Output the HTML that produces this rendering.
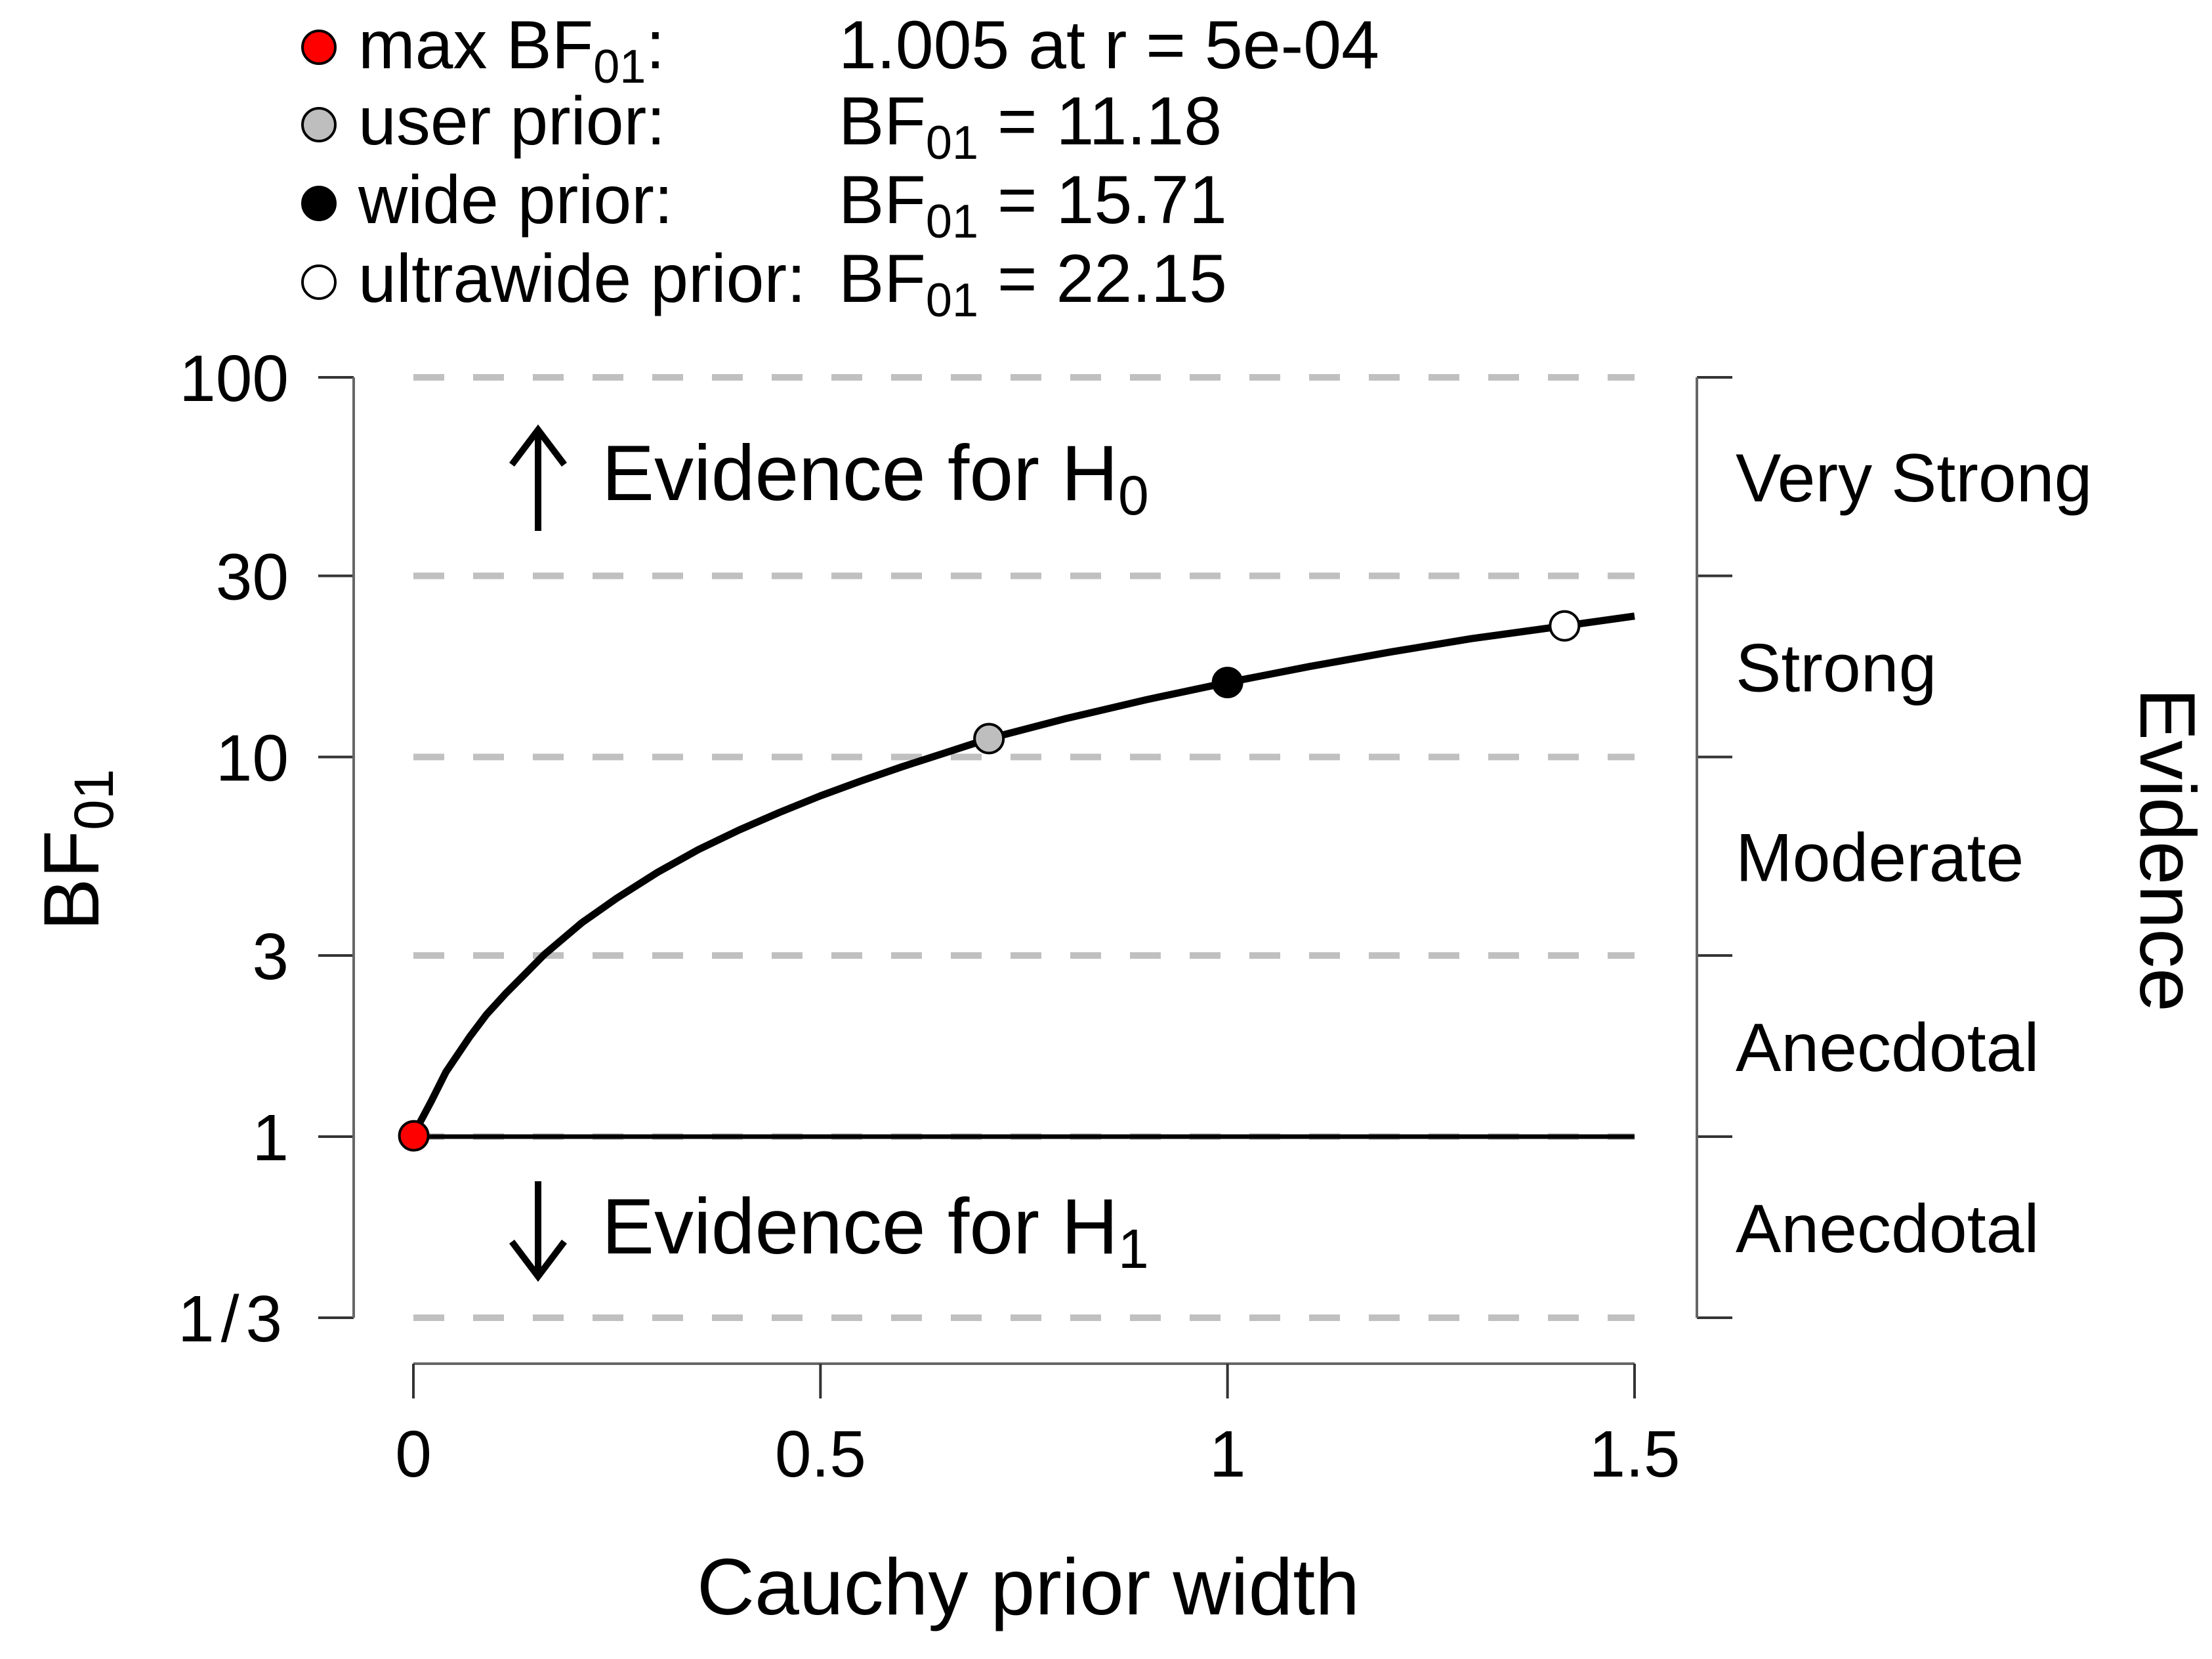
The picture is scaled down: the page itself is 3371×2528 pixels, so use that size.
<!DOCTYPE html>
<html><head><meta charset="utf-8"><style>
html,body{margin:0;padding:0;background:#fff}
svg{display:block;font-family:"Liberation Sans",sans-serif}
</style></head><body>
<svg id="chart" width="3371" height="2528" viewBox="0 0 3371 2528">
<g id="legend" font-size="104" fill="#000">
  <g>
    <circle cx="486" cy="72" r="25" fill="#ff0000" stroke="#000" stroke-width="4"/>
    <text x="546" y="104">max BF<tspan font-size="72" dy="22">01</tspan><tspan dy="-22">:</tspan></text>
    <text x="1278" y="104">1.005 at r = 5e-04</text>
  </g>
  <g>
    <circle cx="486" cy="190" r="25" fill="#bebebe" stroke="#000" stroke-width="4"/>
    <text x="546" y="220">user prior:</text>
    <text x="1278" y="220">BF<tspan font-size="72" dy="22">01</tspan><tspan dy="-22"> = 11.18</tspan></text>
  </g>
  <g>
    <circle cx="486" cy="310" r="25" fill="#000" stroke="#000" stroke-width="4"/>
    <text x="546" y="340">wide prior:</text>
    <text x="1278" y="340">BF<tspan font-size="72" dy="22">01</tspan><tspan dy="-22"> = 15.71</tspan></text>
  </g>
  <g>
    <circle cx="486" cy="430" r="25" fill="#fff" stroke="#000" stroke-width="4"/>
    <text x="546" y="460">ultrawide prior:</text>
    <text x="1278" y="460">BF<tspan font-size="72" dy="22">01</tspan><tspan dy="-22"> = 22.15</tspan></text>
  </g>
</g>
<g id="grid"></g>
<g id="yaxis"></g>
<g id="raxis"></g>
<g id="xaxis"></g>
<g id="marks"></g>
<g font-size="120">
  <g stroke="#000" stroke-width="10" fill="none">
    <line x1="820" y1="809" x2="820" y2="655"/><polyline points="780,708 820,655 860,708"/>
  </g>
  <text x="917" y="762">Evidence for H<tspan font-size="84" dy="22">0</tspan></text>
  <g stroke="#000" stroke-width="10" fill="none">
    <line x1="820" y1="1800" x2="820" y2="1945"/><polyline points="780,1892 820,1945 860,1892"/>
  </g>
  <text x="917" y="1910">Evidence for H<tspan font-size="84" dy="22">1</tspan></text>
</g>
<text transform="translate(150,1295) rotate(-90)" text-anchor="middle" font-size="120">BF<tspan font-size="84" dy="22">01</tspan></text>
<text transform="translate(3262,1295) rotate(90)" text-anchor="middle" font-size="120">Evidence</text>
<text x="1567" y="2460" text-anchor="middle" font-size="122">Cauchy prior width</text>
</svg>
<script>
const xTicks = [0, 0.5, 1, 1.5];
const xTickLabels = ["0", "0.5", "1", "1.5"];
const yTicks = [1/3, 1, 3, 10, 30, 100];
const yTickLabels = ["1/3", "1", "3", "10", "30", "100"];
const evidenceLabels = ["Anecdotal", "Anecdotal", "Moderate", "Strong", "Very Strong"];
const curveR = [0.0005, 0.005, 0.012, 0.022, 0.04, 0.069, 0.09, 0.114, 0.14, 0.161, 0.207, 0.25, 0.30, 0.35, 0.4, 0.45, 0.5, 0.55, 0.6, 0.65, 0.707, 0.8, 0.9, 1.0, 1.1, 1.2, 1.3, 1.414, 1.5];
const curveBF = [1.005, 1.06, 1.13, 1.24, 1.48, 1.83, 2.1, 2.39, 2.72, 3.02, 3.66, 4.25, 4.97, 5.7, 6.42, 7.15, 7.9, 8.65, 9.42, 10.2, 11.18, 12.6, 14.15, 15.71, 17.3, 18.9, 20.5, 22.15, 23.5];
const pointR = [0.0005, 0.707, 1.0, 1.414];
const pointBF = [1.005, 11.18, 15.71, 22.15];
const pointFill = ["#ff0000", "#bebebe", "#000000", "#ffffff"];
const pointName = ["point-max", "point-user-prior", "point-wide-prior", "point-ultrawide-prior"];

const NS = "http://www.w3.org/2000/svg";
const X0 = 630, X1 = 2491, YTOP = 575, YBOT = 2008;
const xs = v => X0 + (v - 0) / 1.5 * (X1 - X0);
const ly = v => Math.log10(v);
const ys = v => YBOT - (ly(v) - ly(1/3)) / (ly(100) - ly(1/3)) * (YBOT - YTOP);
function mk(tag, attrs, parent) {
  const e = document.createElementNS(NS, tag);
  for (const k in attrs) e.setAttribute(k, attrs[k]);
  parent.appendChild(e);
  return e;
}
const grid = document.getElementById('grid');
const yaxis = document.getElementById('yaxis');
const raxis = document.getElementById('raxis');
const xaxis = document.getElementById('xaxis');
const marks = document.getElementById('marks');

yTicks.forEach((t, i) => {
  const y = ys(t);
  const g = mk('line', {x1: X0, x2: X1, y1: y, y2: y, stroke: '#c0c0c0', 'stroke-width': 10, 'stroke-dasharray': '47 44'}, grid);
  
  
  const tk = mk('line', {x1: 485, x2: 539, y1: y, y2: y, stroke: '#333', 'stroke-width': 4}, yaxis);
  
  
  const lb = mk('text', {x: 440, y: y + 36, 'text-anchor': 'end', 'font-size': 100, 'letter-spacing': yTickLabels[i].length === 3 && yTickLabels[i].indexOf('/') > 0 ? 10 : 0}, yaxis);
  lb.textContent = yTickLabels[i];
  
  
  const rt = mk('line', {x1: 2586, x2: 2640, y1: y, y2: y, stroke: '#333', 'stroke-width': 4}, raxis);
  
  
});
const yl = mk('line', {x1: 539, x2: 539, y1: ys(100), y2: ys(1/3), stroke: '#666', 'stroke-width': 4}, yaxis);


const rl = mk('line', {x1: 2586, x2: 2586, y1: ys(100), y2: ys(1/3), stroke: '#666', 'stroke-width': 4}, raxis);


evidenceLabels.forEach((s, i) => {
  const mid = (ys(yTicks[i]) + ys(yTicks[i + 1])) / 2;
  const t = mk('text', {x: 2645, y: mid + 38, 'font-size': 104}, raxis);
  t.textContent = s;
  
  
});
const xl = mk('line', {x1: xs(0), x2: xs(1.5), y1: 2078, y2: 2078, stroke: '#666', 'stroke-width': 4}, xaxis);


xTicks.forEach((t, i) => {
  const x = xs(t);
  const tk = mk('line', {x1: x, x2: x, y1: 2078, y2: 2131, stroke: '#333', 'stroke-width': 4}, xaxis);
  
  
  const lb = mk('text', {x: x, y: 2250, 'text-anchor': 'middle', 'font-size': 100}, xaxis);
  lb.textContent = xTickLabels[i];
  
  
});
const hl = mk('line', {x1: xs(0), x2: xs(1.5), y1: ys(1), y2: ys(1), stroke: '#000', 'stroke-width': 7}, marks);


const pts = curveR.map((r, i) => xs(r).toFixed(1) + ',' + ys(curveBF[i]).toFixed(1)).join(' ');
const cv = mk('polyline', {points: pts, fill: 'none', stroke: '#000', 'stroke-width': 11, 'stroke-linejoin': 'round'}, marks);


pointR.forEach((r, i) => {
  const c = mk('circle', {cx: xs(r), cy: ys(pointBF[i]), r: 22, fill: pointFill[i], stroke: '#000', 'stroke-width': 4}, marks);
  
  
});
</script>
</body></html>
